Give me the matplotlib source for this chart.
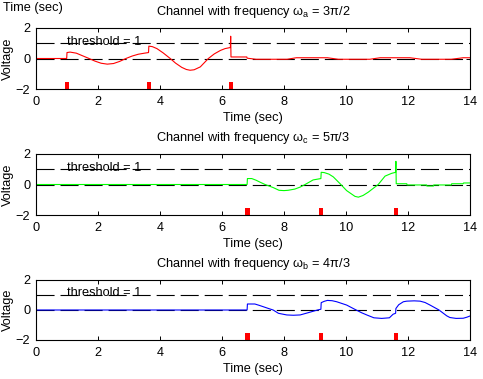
import matplotlib
matplotlib.use("Agg")
import matplotlib.pyplot as plt

plt.rcParams['font.family'] = ['Liberation Sans', 'DejaVu Sans']
plt.rcParams['font.size'] = 9.2
plt.rcParams['mathtext.fontset'] = 'custom'
plt.rcParams['mathtext.rm'] = 'Liberation Sans'
plt.rcParams['mathtext.it'] = 'Liberation Sans'
plt.rcParams['lines.scale_dashes'] = False

# ---- data ----
xticks = [0, 2, 4, 6, 8, 10, 12, 14]
yticks = [-2, 0, 2]
threshold = 1
titles = [r"Channel with frequency $\omega_{\rm a}$ = 3π/2",
          r"Channel with frequency $\omega_{\rm c}$ = 5π/3",
          r"Channel with frequency $\omega_{\rm b}$ = 4π/3"]
colors = ['#ff0000', '#00ff00', '#0000ff']

t_a = [0, 0.99, 1.0, 1.1, 1.3, 1.5, 1.7, 1.9, 2.1, 2.3, 2.5, 2.7, 2.9, 3.1, 3.3, 3.5, 3.63,
       3.64, 3.75, 3.9, 4.1, 4.33, 4.5, 4.7, 4.85, 4.97, 5.1, 5.3, 5.56, 5.75, 5.95, 6.1, 6.27,
       6.28, 6.29, 6.8, 6.81, 7.1, 8.1, 8.4, 9.4, 9.75, 10.77, 11.1, 12.06, 12.44, 13.4, 13.78, 14]
v_a = [0, 0, 0.39, 0.42, 0.35, 0.18, 0.01, -0.17, -0.31, -0.37, -0.33, -0.19, 0.0, 0.16, 0.28, 0.35, 0.39,
       0.81, 0.78, 0.65, 0.37, 0.0, -0.3, -0.58, -0.72, -0.77, -0.74, -0.55, 0.0, 0.3, 0.53, 0.65, 0.72,
       1.46, 0.1, 0.1, 0.02, -0.05, -0.05, 0.05, 0.05, -0.05, -0.05, 0.05, 0.05, -0.05, -0.05, 0.05, 0.05]

t_c = [0, 6.81, 6.82, 6.96, 7.1, 7.23, 7.39, 7.65, 7.84, 8.0, 8.13, 8.35, 8.52, 8.68, 8.94, 9.19,
       9.2, 9.3, 9.45, 9.59, 9.81, 10.02, 10.29, 10.4, 10.55, 10.72, 10.88, 11.04, 11.26, 11.47, 11.6,
       11.61, 11.62, 11.96, 11.97, 12.6, 12.61, 12.82, 12.83, 13.4, 13.41, 13.78, 13.79, 14]
v_c = [0, 0, 0.39, 0.39, 0.28, 0.15, 0.0, -0.2, -0.38, -0.4, -0.38, -0.3, -0.17, 0.0, 0.3, 0.39,
       0.8, 0.78, 0.68, 0.5, 0.05, -0.4, -0.78, -0.83, -0.72, -0.5, -0.25, 0.0, 0.55, 0.73, 0.8,
       1.52, 0.05, 0.05, -0.03, -0.03, -0.1, -0.1, -0.03, -0.03, 0.05, 0.05, 0.1, 0.1]

t_b = [0, 6.81, 6.82, 7.06, 7.2, 7.33, 7.5, 7.65, 7.82, 8.09, 8.3, 8.52, 8.78, 9.08, 9.19,
       9.2, 9.3, 9.4, 9.55, 9.7, 10.02, 10.29, 10.5, 10.67, 10.9, 11.15, 11.4, 11.52, 11.6,
       11.61, 11.7, 11.85, 11.96, 12.2, 12.39, 12.55, 12.71, 13.0, 13.25, 13.35, 13.55, 13.78, 13.9, 14]
v_b = [0, 0, 0.4, 0.4, 0.31, 0.22, 0.1, 0.0, -0.22, -0.33, -0.35, -0.33, -0.18, 0.0, 0.05,
       0.49, 0.58, 0.64, 0.62, 0.55, 0.33, 0.04, -0.18, -0.33, -0.52, -0.56, -0.52, -0.28, -0.22,
       0.1, 0.35, 0.55, 0.59, 0.61, 0.59, 0.5, 0.33, 0.0, -0.39, -0.5, -0.56, -0.55, -0.48, -0.4]

marks_a = [1.0, 3.65, 6.29]
marks_c = [6.82, 9.2, 11.61]
marks_b = [6.82, 9.2, 11.61]
mark_height = 0.45

series = [(t_a, v_a, marks_a), (t_c, v_c, marks_c), (t_b, v_b, marks_b)]

# ---- figure ----
W, H = 483, 379
fig = plt.figure(figsize=(W / 100, H / 100), dpi=100)
boxes = [(36, 28, 470, 89), (36, 154, 470, 215), (36, 280, 470, 340)]

for (x0, y0, x1, y1), (t, v, marks), title, col in zip(boxes, series, titles, colors):
    ax = fig.add_axes([x0 / W, 1 - y1 / H, (x1 - x0) / W, (y1 - y0) / H])
    ax.axhline(threshold, color='black', lw=0.8, dashes=(13, 4.3))
    ax.axhline(0, color='black', lw=0.8, dashes=(13, 4.3))
    ax.plot(t, v, color=col, lw=0.8)
    ax.bar(marks, [mark_height] * len(marks), bottom=-2, width=0.14, color='#ff0000')
    ax.text(1.0, 0.9, "threshold = 1", va='baseline', ha='left')
    ax.set_xlim(0, 14)
    ax.set_ylim(-2, 2)
    ax.set_xticks(xticks)
    ax.set_yticks(yticks)
    ax.tick_params(direction='in', length=3, width=0.7, top=True, right=True)
    ax.tick_params(axis='x', pad=5)
    ax.tick_params(axis='y', pad=4)
    for s in ax.spines.values():
        s.set_linewidth(0.8)
    ax.set_xlabel("Time (sec)", labelpad=3)
    ax.set_ylabel("Voltage", labelpad=1)
    ax.set_title(title, fontsize=9.2, pad=9)

fig.text(3 / W, 1 - 2 / H, "Time (sec)", va='top', ha='left')
fig.savefig("out.png", dpi=100)
